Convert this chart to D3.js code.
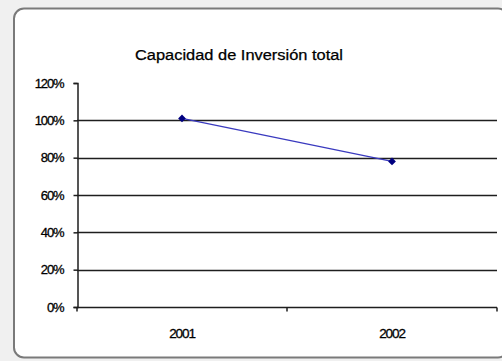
<!DOCTYPE html>
<html>
<head>
<meta charset="utf-8">
<script src="https://cdn.jsdelivr.net/npm/d3@7"></script>
<style>
  html, body { margin: 0; padding: 0; background: #ffffff; }
  svg { display: block; }
  text { font-family: "Liberation Sans", Arial, sans-serif; fill: #000; }
</style>
</head>
<body>
<svg id="chart" width="502" height="361"></svg>
<script>
// Series data
const years = ["2001", "2002"];
const capacidad = [101, 78];           // percent
const yTicks = [0, 20, 40, 60, 80, 100, 120];
const title = "Capacidad de Inversión total";

const svg = d3.select("#chart");
const W = 502, H = 361;

// Chart frame
svg.append("rect")
  .attr("x", 0).attr("y", 0).attr("width", W).attr("height", H)
  .attr("fill", "#f0f0f0");
svg.append("rect")
  .attr("x", 14).attr("y", 8.5).attr("width", 494).attr("height", 349)
  .attr("rx", 10).attr("ry", 10)
  .attr("fill", "#ffffff")
  .attr("stroke", "#7a7a7a").attr("stroke-width", 2);

// Plot area
const plotLeft = 77, plotRight = 497, plotTop = 83, plotBottom = 307;

const x = d3.scaleBand().domain(years).range([plotLeft, plotRight]).padding(0);
const y = d3.scaleLinear().domain([0, 120]).range([plotBottom, plotTop]);

const ink = "#1e1e1e";

// Horizontal gridlines
svg.append("g")
  .selectAll("line")
  .data(yTicks.filter(d => d > 0 && d < 120))
  .join("line")
  .attr("x1", plotLeft).attr("x2", plotRight)
  .attr("y1", d => Math.round(y(d)) + 0.5).attr("y2", d => Math.round(y(d)) + 0.5)
  .attr("stroke", ink).attr("stroke-width", 1.5);

// Value axis
const yAxis = svg.append("g")
  .attr("transform", `translate(${plotLeft + 0.5},0)`)
  .call(d3.axisLeft(y).tickValues(yTicks).tickSize(4).tickPadding(10)
    .tickFormat(d => d + "%"));
yAxis.select(".domain").attr("stroke", ink).attr("stroke-width", 1.5);
yAxis.selectAll(".tick line").attr("stroke", ink).attr("stroke-width", 1.5);
yAxis.selectAll(".tick text")
  .attr("font-size", 13)
  .attr("font-family", "Liberation Sans, Arial, sans-serif")
  .attr("letter-spacing", "-1.1px")
  .attr("stroke", "#000").attr("stroke-width", 0.3)
  .attr("fill", "#000");

// Category axis with tick marks between categories
const xAxisG = svg.append("g")
  .attr("transform", `translate(0,${Math.round(y(0)) + 0.5})`);
xAxisG.append("line")
  .attr("x1", plotLeft).attr("x2", plotRight)
  .attr("stroke", ink).attr("stroke-width", 1.5);
const boundaries = [plotLeft, ...years.map(d => x(d) + x.bandwidth())];
xAxisG.selectAll("line.tk")
  .data(boundaries)
  .join("line").attr("class", "tk")
  .attr("x1", d => d).attr("x2", d => d)
  .attr("y1", 0).attr("y2", 4)
  .attr("stroke", ink).attr("stroke-width", 1.5);
xAxisG.selectAll("text")
  .data(years)
  .join("text")
  .attr("x", d => x(d) + x.bandwidth() / 2)
  .attr("y", 30)
  .attr("text-anchor", "middle")
  .attr("font-size", 13.5)
  .attr("letter-spacing", "-1.1px")
  .attr("stroke", "#000").attr("stroke-width", 0.3)
  .text(d => d);

// Series line
const pts = years.map((yr, i) => [x(yr) + x.bandwidth() / 2, y(capacidad[i])]);
svg.append("path")
  .attr("d", d3.line()(pts))
  .attr("fill", "none")
  .attr("stroke", "#3a3abf")
  .attr("stroke-width", 1.3);

// Markers
svg.append("g")
  .selectAll("path")
  .data(pts)
  .join("path")
  .attr("transform", d => `translate(${d[0]},${d[1]}) rotate(45)`)
  .attr("d", d3.symbol().type(d3.symbolSquare).size(30))
  .attr("fill", "#000080");

// Title
svg.append("text")
  .attr("x", 135).attr("y", 60)
  .attr("font-size", 14)
  .attr("textLength", 208)
  .attr("lengthAdjust", "spacingAndGlyphs")
  .attr("stroke", "#000").attr("stroke-width", 0.25)
  .text(title);
</script>
</body>
</html>
